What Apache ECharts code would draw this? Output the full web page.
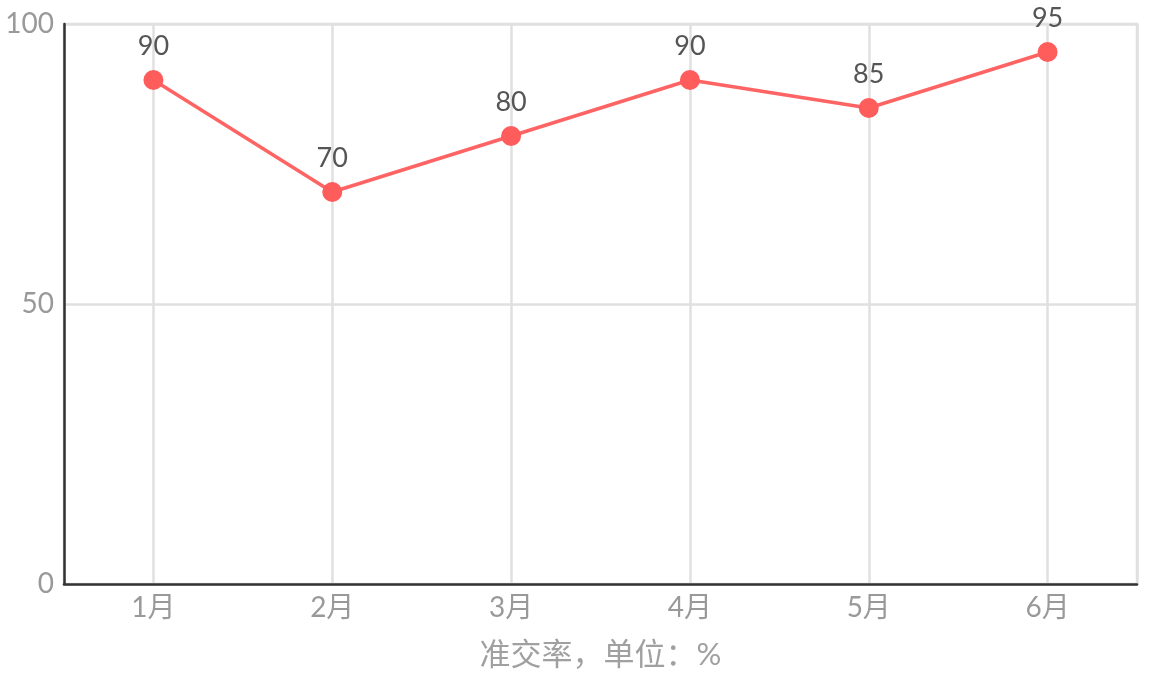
<!DOCTYPE html>
<html>
<head>
<meta charset="utf-8">
<script src="https://cdn.jsdelivr.net/npm/echarts@6/dist/echarts.min.js"></script>
<style>
html,body{margin:0;padding:0;background:#fff;}
#main{width:1149px;height:679px;}
</style>
</head>
<body>
<div id="main"></div>
<script>
const categories = ['1月','2月','3月','4月','5月','6月'];
const values = [90, 70, 80, 90, 85, 95];
const xAxisName = '准交率，单位：%';
const yMin = 0, yMax = 100, yInterval = 50;

const FONT = 'Lato, "Noto Sans CJK SC", sans-serif';
const chart = echarts.init(document.getElementById('main'));
chart.setOption({
  animation: false,
  grid: {left: 64, right: 12, top: 24, bottom: 95, show: true, borderColor: '#e0e0e0', borderWidth: 2.5, backgroundColor: 'transparent'},
  xAxis: [{
    type: 'category',
    data: categories,
    boundaryGap: true,
    name: xAxisName,
    nameLocation: 'middle',
    nameGap: 56,
    nameTextStyle: {color: '#a0a0a0', fontSize: 31, fontFamily: FONT},
    axisLine: {show: true, onZero: false, lineStyle: {color: '#333', width: 2.5}},
    axisTick: {show: false},
    axisLabel: {color: '#999', fontSize: 28, fontFamily: FONT, margin: 10},
    splitLine: {show: false}
  }, {
    type: 'value',
    min: -0.5,
    max: 5.5,
    show: true,
    position: 'bottom',
    axisLine: {show: false, onZero: false},
    axisTick: {show: false},
    axisLabel: {show: false},
    splitLine: {show: true, lineStyle: {color: '#e0e0e0', width: 2.5}}
  }],
  yAxis: {
    type: 'value',
    min: yMin, max: yMax, interval: yInterval,
    axisLine: {show: true, onZero: false, lineStyle: {color: '#333', width: 2.5}},
    axisTick: {show: false},
    axisLabel: {color: '#999', fontSize: 28, fontFamily: FONT, margin: 10},
    splitLine: {show: true, lineStyle: {color: '#e0e0e0', width: 2.5}}
  },
  series: [{
    type: 'line',
    xAxisIndex: 0,
    data: values,
    symbol: 'circle',
    symbolSize: 20,
    itemStyle: {color: '#ff5c5c'},
    lineStyle: {color: '#ff6464', width: 3.5},
    label: {show: true, position: 'top', distance: 10, color: '#555', fontSize: 27, fontFamily: FONT}
  }]
});
</script>
</body>
</html>
